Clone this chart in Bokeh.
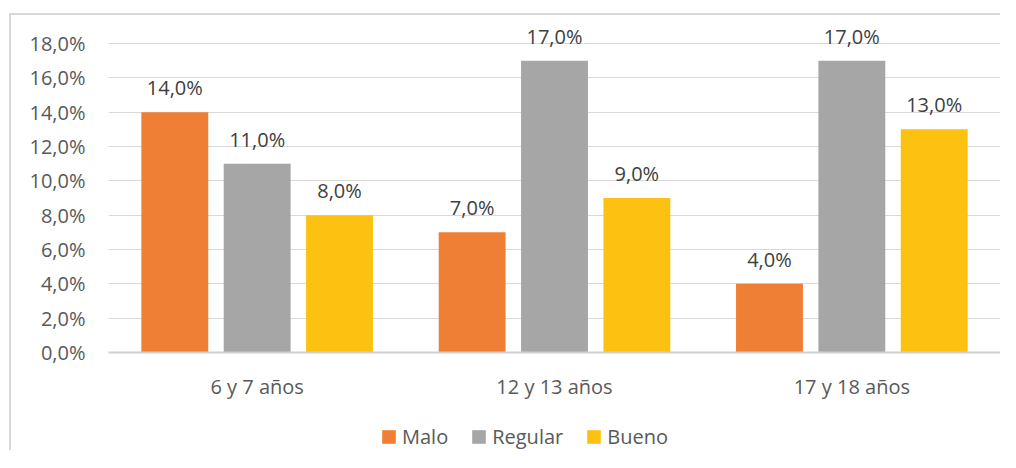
from bokeh.plotting import figure
from bokeh.layouts import column
from bokeh.models import (ColumnDataSource, FactorRange, FixedTicker, Legend, LegendItem, LabelSet)
from bokeh.transform import dodge
from bokeh.core.properties import value
from bokeh.embed import file_html
from bokeh.resources import INLINE

categories = ["6 y 7 años", "12 y 13 años", "17 y 18 años"]
series = ["Malo", "Regular", "Bueno"]
malo = [0.14, 0.07, 0.04]
regular = [0.11, 0.17, 0.17]
bueno = [0.08, 0.09, 0.13]
colors = ["#EF7F35", "#A6A6A6", "#FDC112"]
y_ticks = [0.0, 0.02, 0.04, 0.06, 0.08, 0.10, 0.12, 0.14, 0.16, 0.18]
y_tick_labels = ["0,0%", "2,0%", "4,0%", "6,0%", "8,0%", "10,0%", "12,0%", "14,0%", "16,0%", "18,0%"]

def pct(v):
    return ("%.1f%%" % (v * 100)).replace(".", ",")

src = ColumnDataSource(dict(
    cat=categories, Malo=malo, Regular=regular, Bueno=bueno,
    lMalo=[pct(v) for v in malo], lRegular=[pct(v) for v in regular], lBueno=[pct(v) for v in bueno],
))

FONT = "Open Sans"
FS = "20px"
TXT = "#595959"

# extra headroom above the 18% gridline so the value labels are not clipped
Y_END = 0.18 * 327 / 309

p = figure(x_range=FactorRange(*categories), y_range=(0, Y_END), width=989, height=395,
           output_backend="svg", toolbar_location=None,
           min_border_left=97, min_border_right=0, min_border_top=10, min_border_bottom=58)
p.outline_line_color = None

offsets = [-0.277, 0.0, 0.277]
for s, off, c in zip(series, offsets, colors):
    p.vbar(x=dodge("cat", off, range=p.x_range), top=s, width=0.225, source=src,
           fill_color=c, line_color=None)
    labels = LabelSet(x=dodge("cat", off, range=p.x_range), y=s, text="l" + s, source=src,
                      text_align="center", text_baseline="alphabetic", y_offset=17,
                      text_font=value(FONT), text_font_size=value(FS), text_color="#404040")
    p.add_layout(labels)

p.yaxis.ticker = FixedTicker(ticks=y_ticks)
p.yaxis.major_label_overrides = {t: l for t, l in zip(y_ticks, y_tick_labels)}
p.yaxis.axis_line_color = None
p.yaxis.major_tick_line_color = None
p.yaxis.major_tick_out = 0
p.yaxis.minor_tick_line_color = None
p.yaxis.major_label_text_font = FONT
p.yaxis.major_label_text_font_size = FS
p.yaxis.major_label_text_color = TXT
p.yaxis.major_label_standoff = 23

p.xaxis.axis_line_color = "#d0d0d0"
p.xaxis.axis_line_width = 2
p.xaxis.major_tick_line_color = None
p.xaxis.major_tick_out = 0
p.xaxis.minor_tick_line_color = None
p.xaxis.major_label_text_font = FONT
p.xaxis.major_label_text_font_size = FS
p.xaxis.major_label_text_color = TXT
p.xaxis.major_label_standoff = 20

p.xgrid.grid_line_color = None
p.ygrid.grid_line_color = "#d9d9d9"
p.ygrid.grid_line_width = 1

# legend strip (its bars lie below the visible range, only the legend shows)
lg = figure(width=989, height=40, x_range=FactorRange(*categories), y_range=(1, 2),
            output_backend="svg", toolbar_location=None,
            x_axis_type=None, y_axis_type=None,
            min_border_left=0, min_border_right=0, min_border_top=0, min_border_bottom=0)
lg.outline_line_color = None
lg.xgrid.visible = False
lg.ygrid.visible = False
items = []
for s, c in zip(series, colors):
    r = lg.vbar(x="cat", top=s, width=0.2, source=src, fill_color=c, line_color=None)
    items.append(LegendItem(label=s, renderers=[r]))
legend = Legend(items=items, orientation="horizontal", location=(272, 0),
                label_text_font=FONT, label_text_font_size=FS, label_text_color=TXT,
                glyph_width=17, glyph_height=17, spacing=22, label_standoff=5,
                border_line_color=None, background_fill_alpha=0, padding=0, margin=0)
lg.add_layout(legend, "center")

layout = column(p, lg, spacing=0,
                styles={"margin-left": "9px", "margin-top": "13px",
                        "border-left": "2px solid #d9d9d9", "border-top": "2px solid #d9d9d9"})

open("out.html", "w").write(file_html(layout, INLINE))
